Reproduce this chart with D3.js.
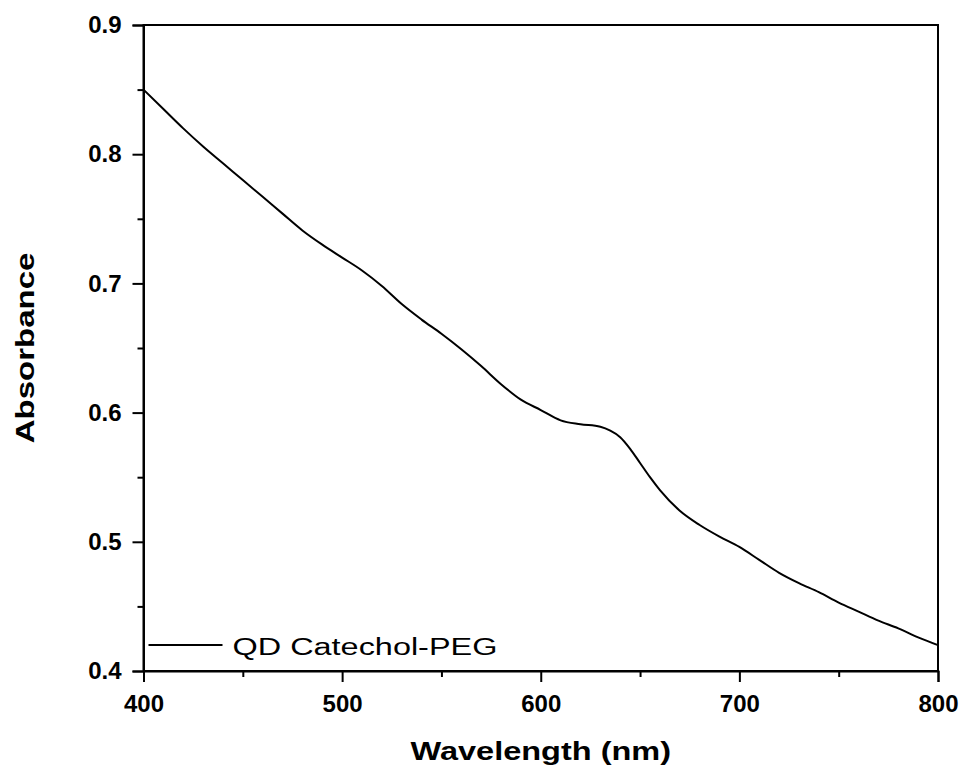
<!DOCTYPE html>
<html>
<head>
<meta charset="utf-8">
<script src="https://cdn.jsdelivr.net/npm/d3@7"></script>
<style>
  body { margin: 0; background: #fff; }
  svg { display: block; }
  text { font-family: "Liberation Sans", Arial, sans-serif; }
</style>
</head>
<body>
<div id="chart"></div>
<script>
// spectrum
var wavelength = [400, 410, 420, 430, 440, 450, 460, 470, 480, 490, 500, 510, 520, 530, 540, 550,
    560, 570, 580, 590, 600, 610, 620, 630, 635, 640, 645, 650, 655, 660, 670, 680, 690, 700,
    710, 720, 730, 740, 750, 760, 770, 780, 790, 800];
var absorbance = [0.850, 0.835, 0.820, 0.806, 0.793, 0.780, 0.767, 0.754, 0.741, 0.730, 0.720, 0.710,
    0.698, 0.684, 0.672, 0.661, 0.649, 0.636, 0.622, 0.610, 0.602, 0.594, 0.591, 0.589, 0.586,
    0.581, 0.572, 0.561, 0.550, 0.540, 0.524, 0.513, 0.504, 0.496, 0.486, 0.476, 0.468, 0.461,
    0.453, 0.446, 0.439, 0.433, 0.426, 0.420];
var xTicks = [400, 500, 600, 700, 800];
var xMinor = [450, 550, 650, 750];
var yTicks = [0.4, 0.5, 0.6, 0.7, 0.8, 0.9];
var yMinor = [0.45, 0.55, 0.65, 0.75, 0.85];
var seriesName = "QD Catechol-PEG";

var margin = { top: 25, right: 25, bottom: 102, left: 143.5 },
    width = 963 - margin.left - margin.right,
    height = 773 - margin.top - margin.bottom;

var data = wavelength.map(function (w, i) { return { x: w, y: absorbance[i] }; });

var xScale = d3.scaleLinear().domain([400, 800]).range([0, width]);
var yScale = d3.scaleLinear().domain([0.4, 0.9]).range([height, 0]);

var svg = d3.select("#chart").append("svg")
    .attr("width", 963)
    .attr("height", 773);

var g = svg.append("g")
    .attr("transform", "translate(" + margin.left + "," + margin.top + ")");

// frame
g.append("rect")
    .attr("width", width)
    .attr("height", height)
    .attr("fill", "none")
    .attr("stroke", "#000")
    .attr("stroke-width", 2);

// x axis
g.append("g")
    .attr("transform", "translate(0," + height + ")")
    .call(d3.axisBottom(xScale).tickValues(xTicks).tickSize(11).tickPadding(13).tickFormat(d3.format("d")));
g.append("g")
    .attr("transform", "translate(0," + height + ")")
    .call(d3.axisBottom(xScale).tickValues(xMinor).tickSize(6).tickFormat(""))
    .select(".domain").remove();

// y axis
g.append("g")
    .call(d3.axisLeft(yScale).tickValues(yTicks).tickSize(11).tickPadding(11).tickFormat(d3.format(".1f")));
g.append("g")
    .call(d3.axisLeft(yScale).tickValues(yMinor).tickSize(6).tickFormat(""))
    .select(".domain").remove();

g.selectAll(".domain").attr("stroke-width", 2);
g.selectAll(".tick line").attr("stroke-width", 2);
g.selectAll(".tick text")
    .style("font-family", "'Liberation Sans', Arial, sans-serif")
    .style("font-size", "24px")
    .style("font-weight", "bold")
    .attr("fill", "#000");

// curve
g.append("path")
    .datum(data)
    .attr("fill", "none")
    .attr("stroke", "#000")
    .attr("stroke-width", 2)
    .attr("stroke-linejoin", "round")
    .attr("d", d3.line()
        .x(function (d) { return xScale(d.x); })
        .y(function (d) { return yScale(d.y); })
        .curve(d3.curveMonotoneX));

// legend (text is a bit wider in the original, hence the stretch)
g.append("line")
    .attr("x1", 5).attr("x2", 79)
    .attr("y1", 620).attr("y2", 620)
    .attr("stroke", "#000")
    .attr("stroke-width", 2);
g.append("text")
    .attr("transform", "translate(89,630) scale(1.41,1)")
    .style("font-size", "23px")
    .text(seriesName);

// axis titles
svg.append("text")
    .attr("transform", "translate(" + (margin.left + width / 2) + ",760) scale(1.25,1)")
    .attr("text-anchor", "middle")
    .style("font-size", "26px")
    .style("font-weight", "bold")
    .text("Wavelength (nm)");

svg.append("text")
    .attr("transform", "translate(34," + (margin.top + height / 2) + ") rotate(-90) scale(1.27,1)")
    .attr("text-anchor", "middle")
    .style("font-size", "26px")
    .style("font-weight", "bold")
    .text("Absorbance");
</script>
</body>
</html>
